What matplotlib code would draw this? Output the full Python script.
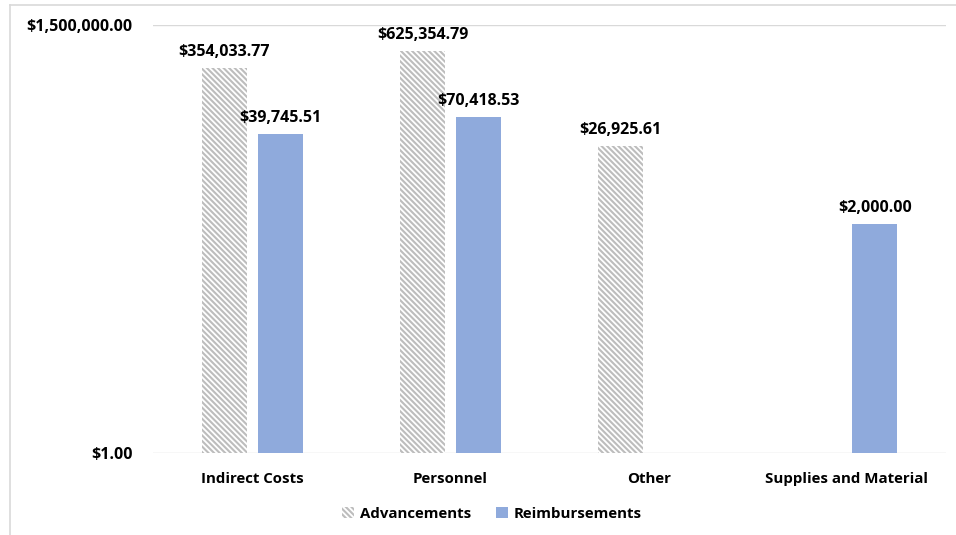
import matplotlib
matplotlib.use("Agg")
import matplotlib.pyplot as plt
import numpy as np
from matplotlib.lines import Line2D
from matplotlib.ticker import FixedLocator, FuncFormatter, NullLocator

categories = ["Indirect Costs", "Personnel", "Other", "Supplies and Material"]
advancements = [354033.77, 625354.79, 26925.61, None]
reimbursements = [39745.51, 70418.53, None, 2000.00]
series_names = ["Advancements", "Reimbursements"]
y_ticks = [1, 1500000]

plt.rcParams["font.family"] = ["Open Sans", "DejaVu Sans"]
plt.rcParams["font.weight"] = "bold"
plt.rcParams["hatch.color"] = "#bdbdbd"
plt.rcParams["hatch.linewidth"] = 1.5

FS = 10.8
FSN = 11.5

fig = plt.figure(figsize=(9.56, 5.35), dpi=100)
ax = fig.add_axes([153/956, 1-453/535, (946-153)/956, (453-25)/535])

x = np.arange(len(categories))
w = 0.227
off = 0.141

def vals(v):
    return [np.nan if a is None else a for a in v]

adv = vals(advancements)
rei = vals(reimbursements)

b1 = ax.bar(x - off, adv, w, bottom=1, color="white", edgecolor="#bdbdbd",
            linewidth=0, hatch="\\" * 6, label=series_names[0], zorder=3)
b2 = ax.bar(x + off, rei, w, bottom=1, color="#8FAADC", linewidth=0,
            label=series_names[1], zorder=3)

ax.set_yscale("log")
ax.set_ylim(1, 1500000)
ax.set_xlim(-0.5, len(categories) - 0.5)
ax.yaxis.set_major_locator(FixedLocator(y_ticks))
ax.yaxis.set_minor_locator(NullLocator())
ax.yaxis.set_major_formatter(FuncFormatter(lambda v, p: f"${v:,.2f}"))
ax.grid(axis="y", color="#d9d9d9", linewidth=1.0, zorder=0)
for s in ax.spines.values():
    s.set_visible(False)
ax.tick_params(axis="both", length=0)
ax.tick_params(axis="y", pad=14.5, labelsize=FSN)
ax.tick_params(axis="x", pad=14, labelsize=FS)
ax.set_xticks(x)
ax.set_xticklabels(categories, fontweight="bold")
for t in ax.get_yticklabels():
    t.set_fontweight("bold")

for xs, series in ((x - off, adv), (x + off, rei)):
    for xi, v in zip(xs, series):
        if not np.isnan(v):
            ax.annotate(f"${v:,.2f}", (xi, v), xytext=(0, 6), textcoords="offset points",
                        ha="center", va="bottom", fontsize=FSN, fontweight="bold")

leg = fig.legend(handles=[b1, b2], labels=series_names, loc="center",
                 bbox_to_anchor=(492/956, 1-514/535), ncol=2, frameon=False,
                 prop={"size": FS, "weight": "bold"}, handlelength=0.75, handleheight=0.75,
                 handletextpad=0.4, columnspacing=1.7)

# outer chart border (top and left visible)
fig.add_artist(Line2D([10/956, 1.0], [1-5/535, 1-5/535], color="#d9d9d9", linewidth=1.2,
                      transform=fig.transFigure))
fig.add_artist(Line2D([10/956, 10/956], [0.0, 1-5/535], color="#d9d9d9", linewidth=1.2,
                      transform=fig.transFigure))

fig.savefig("out.png", dpi=100)
